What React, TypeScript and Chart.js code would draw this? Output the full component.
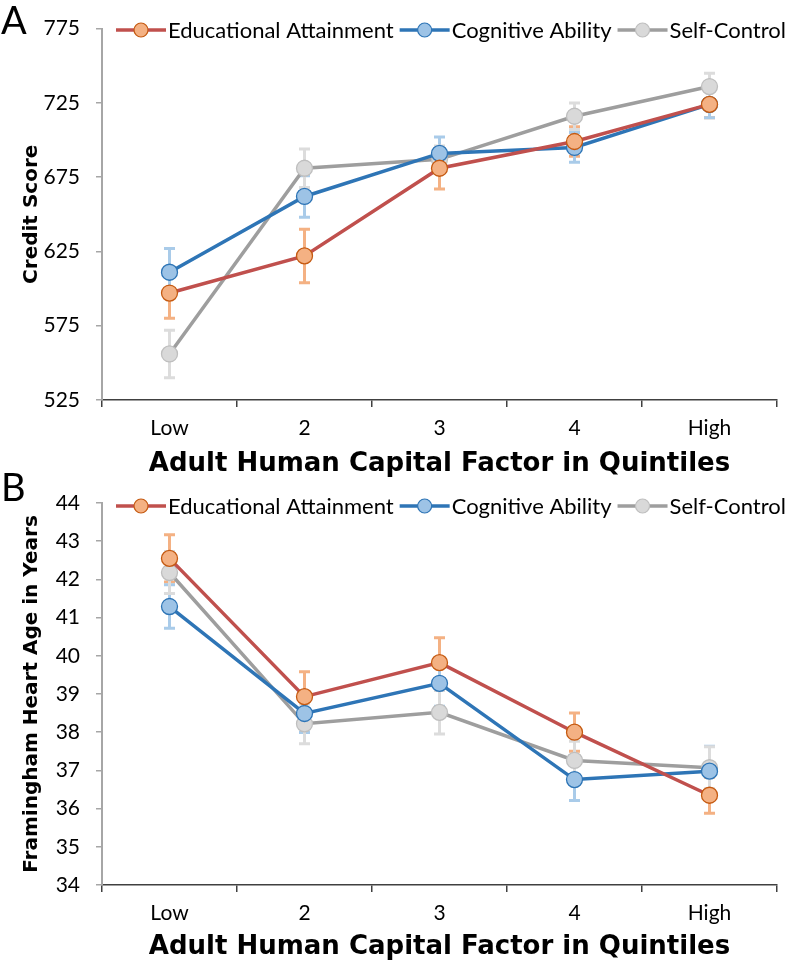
import React, { useEffect, useRef } from "react";
import { Chart, registerables } from "chart.js";

Chart.register(...registerables);

const categories = ["Low", "2", "3", "4", "High"];
const seriesNames = ["Educational Attainment", "Cognitive Ability", "Self-Control"];

// Panel A: Credit Score
const eduA = [597, 622, 681, 699, 724];
const eduAErr = [17, 18, 14, 10, 9];
const cogA = [611, 662, 691, 695, 724];
const cogAErr = [16, 14, 11, 10, 9];
const selfA = [556, 681, 687, 716, 736];
const selfAErr = [16, 13, 9, 9, 9];
const yTicksA = [525, 575, 625, 675, 725, 775];

// Panel B: Framingham Heart Age
const eduB = [42.55, 38.93, 39.82, 38.0, 36.35];
const eduBErr = [0.62, 0.65, 0.65, 0.5, 0.47];
const cogB = [41.29, 38.49, 39.28, 36.76, 36.98];
const cogBErr = [0.57, 0.5, 0.6, 0.55, 0.65];
const selfB = [42.18, 38.22, 38.52, 37.26, 37.07];
const selfBErr = [0.55, 0.52, 0.57, 0.5, 0.55];
const yTicksB = [34, 35, 36, 37, 38, 39, 40, 41, 42, 43, 44];

const FONT = "Lato, 'Open Sans', sans-serif";
const TITLE_FONT = "'DejaVu Sans', 'Open Sans', sans-serif";
const lineColors = ["#c0504d", "#2e75b6", "#9e9e9e"];
const fillColors = ["#f4b183", "#9dc3e6", "#d9d9d9"];
const borderColors = ["#c55a11", "#2e75b6", "#bfbfbf"];
const errColors = ["#f4b183", "#a9cbe9", "#dcdcdc"];

const errorBarPlugin = {
  id: "errorBars",
  beforeDatasetsDraw(chart: any) {
    const errs = chart.options.plugins.errorBars?.errors || [];
    const ctx = chart.ctx;
    const xs = chart.scales.x;
    const ys = chart.scales.y;
    ctx.save();
    chart.data.datasets.forEach((ds: any, i: number) => {
      const e = errs[i];
      if (!e) return;
      ctx.strokeStyle = errColors[i];
      ctx.lineWidth = 3;
      ds.data.forEach((v: number, j: number) => {
        const x = xs.getPixelForValue(j);
        const y1 = ys.getPixelForValue(v + e[j]);
        const y2 = ys.getPixelForValue(v - e[j]);
        ctx.beginPath();
        ctx.moveTo(x, y1);
        ctx.lineTo(x, y2);
        ctx.moveTo(x - 5.5, y1);
        ctx.lineTo(x + 5.5, y1);
        ctx.moveTo(x - 5.5, y2);
        ctx.lineTo(x + 5.5, y2);
        ctx.stroke();
      });
    });
    ctx.restore();
  },
};

const decorPlugin = {
  id: "decor",
  afterDraw(chart: any) {
    const o = chart.options.plugins.decor;
    if (!o) return;
    const ctx = chart.ctx;
    ctx.save();
    // panel letter
    ctx.fillStyle = "#000";
    ctx.font = `38px ${FONT}`;
    ctx.textBaseline = "middle";
    ctx.textAlign = "left";
    ctx.fillText(o.letter, 1, o.letterY);
    // legend
    ctx.font = `22px ${FONT}`;
    let x = 116;
    const y = o.legendY;
    seriesNames.forEach((name, i) => {
      ctx.strokeStyle = lineColors[i];
      ctx.lineWidth = 3.5;
      ctx.beginPath();
      ctx.moveTo(x, y);
      ctx.lineTo(x + 50, y);
      ctx.stroke();
      ctx.beginPath();
      ctx.arc(x + 25, y, 7, 0, Math.PI * 2);
      ctx.fillStyle = fillColors[i];
      ctx.fill();
      ctx.lineWidth = 1.2;
      ctx.strokeStyle = borderColors[i];
      ctx.stroke();
      ctx.fillStyle = "#000";
      ctx.fillText(name, x + 52, y + 1);
      x = x + 52 + ctx.measureText(name).width + 6;
    });
    ctx.restore();
  },
};

function makeConfig(
  data: number[][],
  errs: number[][],
  ticks: number[],
  yTitle: string,
  xScaleHeight: number,
  padTop: number,
  letter: string,
  letterY: number,
  legendY: number,
  titleBottomPad: number
): any {
  return {
    type: "line",
    data: {
      labels: categories,
      datasets: data.map((d, i) => ({
        label: seriesNames[i],
        data: d,
        borderColor: lineColors[i],
        borderWidth: 3.5,
        pointRadius: 8,
        pointHoverRadius: 8,
        pointBackgroundColor: fillColors[i],
        pointBorderColor: borderColors[i],
        pointBorderWidth: 1.3,
        tension: 0,
        fill: false,
      })),
    },
    options: {
      responsive: false,
      animation: false,
      events: [],
      layout: { padding: { top: padTop, right: 16, left: 0, bottom: 0 } },
      plugins: {
        legend: { display: false },
        tooltip: { enabled: false },
        errorBars: { errors: errs },
        decor: { letter, letterY, legendY },
      },
      scales: {
        x: {
          type: "category",
          offset: true,
          afterFit: (s: any) => {
            s.height = xScaleHeight;
          },
          border: { display: true, color: "#404040", width: 1.5 },
          grid: {
            offset: true,
            drawOnChartArea: false,
            drawTicks: true,
            tickLength: 7,
            color: "#404040",
            lineWidth: 1.5,
          },
          ticks: {
            color: "#000",
            font: { family: FONT, size: 21 },
            padding: 9,
            maxRotation: 0,
          },
          title: {
            display: true,
            text: "Adult Human Capital Factor in Quintiles",
            color: "#000",
            font: { family: TITLE_FONT, size: 26, weight: "bold" },
            padding: { top: 2, bottom: titleBottomPad },
          },
        },
        y: {
          min: ticks[0],
          max: ticks[ticks.length - 1],
          afterFit: (s: any) => {
            s.width = 102;
          },
          afterBuildTicks: (s: any) => {
            s.ticks = ticks.map((v) => ({ value: v }));
          },
          border: { display: true, color: "#a6a6a6", width: 2 },
          grid: {
            drawOnChartArea: false,
            drawTicks: true,
            tickLength: 6,
            color: "#a6a6a6",
            lineWidth: 1.5,
          },
          ticks: {
            color: "#000",
            font: { family: FONT, size: 21 },
            padding: 16,
          },
          title: {
            display: true,
            text: yTitle,
            color: "#000",
            font: { family: TITLE_FONT, size: 20, weight: "bold" },
            padding: { top: 20, bottom: 0 },
          },
        },
      },
    },
    plugins: [errorBarPlugin, decorPlugin],
  };
}

export default function App() {
  const refA = useRef<HTMLCanvasElement>(null);
  const refB = useRef<HTMLCanvasElement>(null);

  useEffect(() => {
    const a = new Chart(
      refA.current as HTMLCanvasElement,
      makeConfig(
        [eduA, cogA, selfA],
        [eduAErr, cogAErr, selfAErr],
        yTicksA,
        "Credit Score",
        80,
        20,
        "A",
        22,
        30,
        0
      )
    );
    const b = new Chart(
      refB.current as HTMLCanvasElement,
      makeConfig(
        [eduB, cogB, selfB],
        [eduBErr, cogBErr, selfBErr],
        yTicksB,
        "Framingham Heart Age in Years",
        77,
        33,
        "B",
        19,
        36,
        -1
      )
    );
    return () => {
      a.destroy();
      b.destroy();
    };
  }, []);

  return (
    <div
      style={{
        position: "fixed",
        left: 0,
        top: 0,
        width: 793,
        height: 962,
        background: "#fff",
      }}
    >
      <canvas
        ref={refA}
        width={793}
        height={480}
        style={{ position: "absolute", left: 0, top: 0 }}
      />
      <canvas
        ref={refB}
        width={793}
        height={492}
        style={{ position: "absolute", left: 0, top: 470 }}
      />
    </div>
  );
}
